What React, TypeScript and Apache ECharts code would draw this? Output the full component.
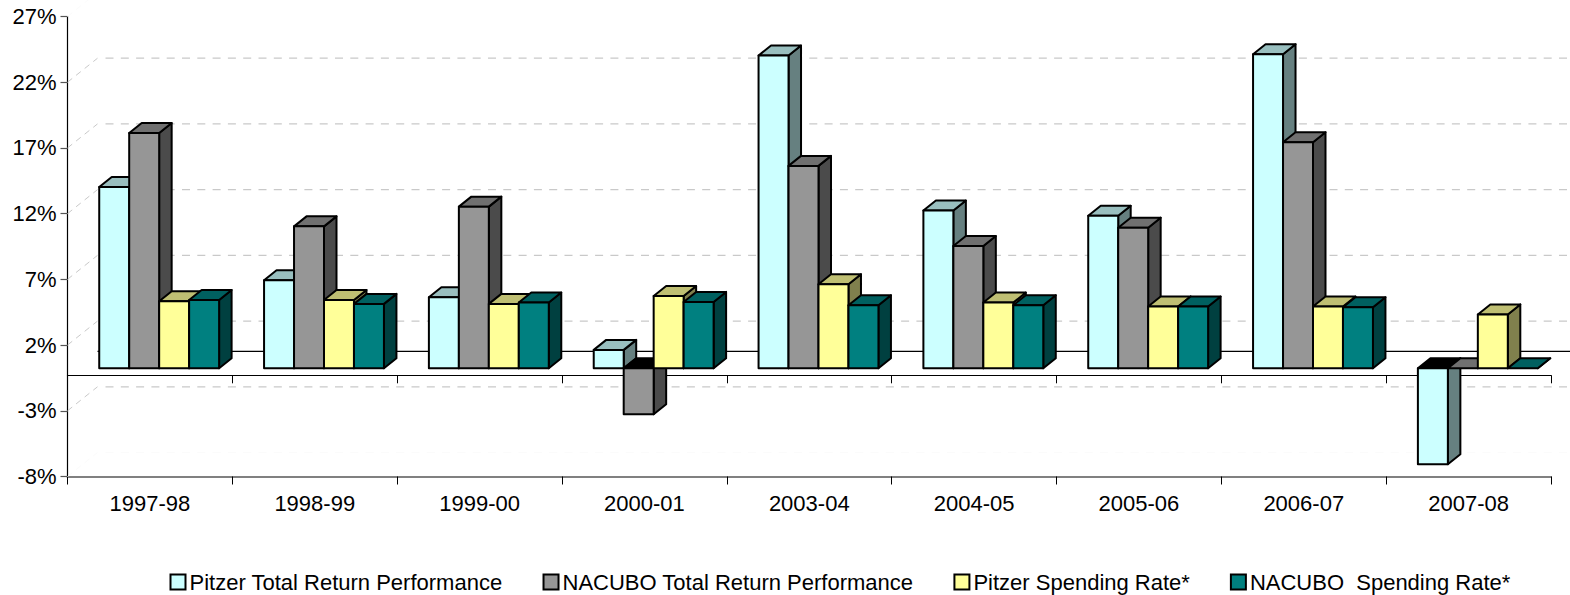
import React, { useEffect, useRef } from "react";
import * as echarts from "echarts";

const categories = ["1997-98", "1998-99", "1999-00", "2000-01", "2003-04", "2004-05", "2005-06", "2006-07", "2007-08"];
const pitzerReturn = [13.8, 6.7, 5.4, 1.4, 23.8, 12.0, 11.6, 23.9, -7.3];
const nacuboReturn = [17.9, 10.8, 12.3, -3.5, 15.4, 9.3, 10.7, 17.2, 0];
const pitzerSpending = [5.1, 5.2, 4.9, 5.5, 6.4, 5.0, 4.7, 4.7, 4.1];
const nacuboSpending = [5.2, 4.9, 5.0, 5.05, 4.8, 4.8, 4.7, 4.65, 0];
const axisTicks = [-7.7, -2.7, 2.3, 7.3, 12.3, 17.3, 22.3, 27.3];

const seriesDefs = [
  { name: "Pitzer Total Return Performance", values: pitzerReturn, front: "#ccffff", top: "#99bfbf", side: "#668080" },
  { name: "NACUBO Total Return Performance", values: nacuboReturn, front: "#969696", top: "#707070", side: "#4b4b4b" },
  { name: "Pitzer Spending Rate*", values: pitzerSpending, front: "#ffff99", top: "#bfbf73", side: "#80804d" },
  { name: "NACUBO  Spending Rate*", values: nacuboSpending, front: "#008080", top: "#006060", side: "#004040" },
];

const WALL_DX = 30;
const WALL_DY = -24;
const BAR_DX = 9.25;
const BAR_DY = -7;
const DEPTH_DX = 12.5;
const DEPTH_DY = -10;
const FONT = "'Liberation Sans', Arial, sans-serif";

function wallItem(_params: any, api: any) {
  const v = api.value(0);
  const band = api.size([1, 0])[0];
  const p = api.coord([0, v]);
  const x0 = p[0] - band / 2;
  const x1 = x0 + band * categories.length + WALL_DX;
  const y = p[1];
  const faint = v === axisTicks[0] || v === axisTicks[axisTicks.length - 1];
  const color = faint ? "#fbfbfb" : "#c9c9c9";
  return {
    type: "group",
    children: [
      {
        type: "line",
        shape: { x1: x0, y1: y, x2: x0 + WALL_DX, y2: y + WALL_DY },
        style: { stroke: color, lineWidth: 1, lineDash: [6, 5] },
      },
      {
        type: "line",
        shape: { x1: x0 + WALL_DX + 8, y1: y + WALL_DY, x2: x1, y2: y + WALL_DY },
        style: { stroke: color, lineWidth: 1.2, lineDash: [8, 7.3] },
      },
    ],
  };
}

function backZeroItem(_params: any, api: any) {
  const band = api.size([1, 0])[0];
  const p = api.coord([0, api.value(0)]);
  const x0 = p[0] - band / 2 + WALL_DX;
  return {
    type: "line",
    shape: { x1: x0, y1: p[1] + WALL_DY, x2: x0 + band * categories.length, y2: p[1] + WALL_DY },
    style: { stroke: "#000", lineWidth: 1.2 },
  };
}

function barRenderer(index: number, def: (typeof seriesDefs)[number]) {
  return (_params: any, api: any) => {
    const cat = api.value(0);
    const v = api.value(1);
    const band = api.size([1, 0])[0];
    const w = band / 5.5;
    const base = api.coord([cat, 0]);
    const tip = api.coord([cat, v]);
    const xl = base[0] + BAR_DX - 2 * w + index * w;
    const xr = xl + w;
    const yBase = base[1] + BAR_DY;
    const yTip = tip[1] + BAR_DY;
    const yTop = Math.min(yBase, yTip);
    const yBot = Math.max(yBase, yTip);
    const poly = (points: number[][], fill: string) => ({
      type: "polygon",
      shape: { points },
      style: { fill, stroke: "#000", lineWidth: 2, lineJoin: "round" },
    });
    return {
      type: "group",
      children: [
        poly(
          [[xr, yTop], [xr + DEPTH_DX, yTop + DEPTH_DY], [xr + DEPTH_DX, yBot + DEPTH_DY], [xr, yBot]],
          def.side,
        ),
        poly(
          [[xl, yTop], [xl + DEPTH_DX, yTop + DEPTH_DY], [xr + DEPTH_DX, yTop + DEPTH_DY], [xr, yTop]],
          v < 0 ? "#000" : def.top,
        ),
        ...(yBot > yTop ? [poly([[xl, yTop], [xr, yTop], [xr, yBot], [xl, yBot]], def.front)] : []),
      ],
    };
  };
}

export default function App() {
  const ref = useRef<HTMLDivElement>(null);
  useEffect(() => {
    document.body.style.margin = "0";
    const chart = echarts.init(ref.current!, null, { renderer: "svg" });
    chart.setOption({
      animation: false,
      backgroundColor: "#fff",
      textStyle: { fontFamily: FONT },
      grid: { left: 67.5, top: 16.5, width: 1483.5, height: 460, containLabel: false },
      legend: {
        left: 169.5,
        top: 571,
        itemWidth: 15,
        itemHeight: 15,
        itemGap: 40,
        padding: 0,
        selectedMode: false,
        icon: "rect",
        textStyle: { fontFamily: FONT, fontSize: 22, color: "#000", padding: [2, 0, 0, -1] },
        data: seriesDefs.map((d) => d.name),
      },
      xAxis: [
        {
          type: "category",
          data: categories,
          position: "bottom",
          axisLine: { onZero: false, lineStyle: { color: "#808080", width: 2 } },
          axisTick: { show: true, length: 8, lineStyle: { color: "#000", width: 1 } },
          axisLabel: { color: "#000", fontSize: 22, fontFamily: FONT, margin: 16, interval: 0 },
          splitLine: { show: false },
        },
        {
          type: "category",
          data: categories,
          position: "bottom",
          axisLine: { onZero: true, lineStyle: { color: "#000", width: 1.2 } },
          axisTick: { show: true, length: 8, lineStyle: { color: "#000", width: 1 } },
          axisLabel: { show: false },
          splitLine: { show: false },
        },
      ],
      yAxis: {
        type: "value",
        min: axisTicks[0],
        max: axisTicks[axisTicks.length - 1],
        axisLine: { show: true, onZero: false, lineStyle: { color: "#000", width: 1.2 } },
        axisTick: { show: true, length: 7, customValues: axisTicks, lineStyle: { color: "#555", width: 1.2 } },
        axisLabel: {
          color: "#000",
          fontSize: 22,
          fontFamily: FONT,
          margin: 11,
          customValues: axisTicks,
          formatter: (v: number) => `${Math.round(v)}%`,
        },
        splitLine: { show: false },
      },
      series: [
        {
          type: "custom",
          silent: true,
          clip: false,
          renderItem: wallItem,
          data: axisTicks.map((v) => [v]),
          encode: { y: 0 },
          z: 1,
        },
        {
          type: "custom",
          silent: true,
          clip: false,
          renderItem: backZeroItem,
          data: [[0]],
          encode: { y: 0 },
          z: 1,
        },
        ...seriesDefs.map((d, i) => ({
          type: "custom",
          name: d.name,
          clip: false,
          itemStyle: { color: d.front, borderColor: "#000", borderWidth: 1.5 },
          renderItem: barRenderer(i, d),
          data: d.values.map((v, c) => [c, v]),
          encode: { x: 0, y: 1 },
          z: 3,
        })),
      ],
    });
    return () => chart.dispose();
  }, []);
  return <div ref={ref} style={{ position: "fixed", left: 0, top: 0, width: 1570, height: 595 }} />;
}
